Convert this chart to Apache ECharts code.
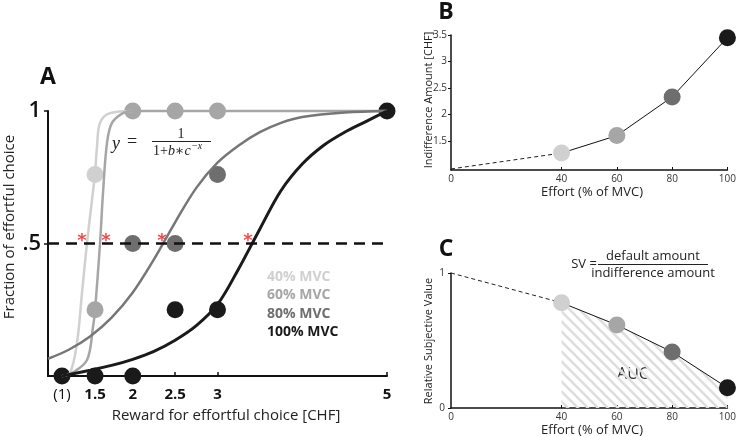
<!DOCTYPE html>
<html>
<head>
<meta charset="utf-8">
<script src="https://cdn.jsdelivr.net/npm/echarts@6/dist/echarts.min.js"></script>
<style>
html, body { margin: 0; padding: 0; background: #fff; }
#chart { width: 739px; height: 436px; }
</style>
</head>
<body>
<div id="chart"></div>
<script>
// ---- panel A: choice curves ----
// "(1)" sits a bit to the right of the axis origin in the figure
const rewardTicks = [1.165, 1.555, 2, 2.5, 3, 5];
const rewardLabels = ['(1)', '1.5', '2', '2.5', '3', '5'];
const levelNames = ['40% MVC', '60% MVC', '80% MVC', '100% MVC'];

// observed fraction of effortful choices
const dots40 = [[1.555, 0.76]];
const dots60 = [[1.555, 0.25], [2, 1], [2.5, 1], [3, 1]];
const dots80 = [[2, 0.5], [2.5, 0.5], [3, 0.76]];
const dots100 = [[1.165, 0], [1.555, 0], [2, 0], [2.5, 0.25], [3, 0.25], [5, 1]];

// fitted sigmoids
const fit40 = [[1.165, 0], [1.26, 0.011], [1.342, 0.125], [1.401, 0.313], [1.46, 0.502], [1.519, 0.664],
  [1.555, 0.766], [1.578, 0.864], [1.614, 0.955], [1.732, 0.992], [2.0, 1.0]];
const fit60 = [[1.165, 0], [1.283, 0.011], [1.46, 0.06], [1.531, 0.185], [1.555, 0.249], [1.614, 0.502],
  [1.649, 0.691], [1.696, 0.879], [1.755, 0.955], [1.885, 0.992], [2.0, 1.0], [5.0, 1.0]];
const fit80 = [[1.0, 0.065], [1.25, 0.1], [1.5, 0.15], [1.75, 0.22], [2.0, 0.315], [2.25, 0.44],
  [2.5, 0.58], [2.75, 0.71], [3.0, 0.805], [3.25, 0.87], [3.5, 0.92], [3.75, 0.955], [4.0, 0.977],
  [4.5, 0.994], [5.0, 1.0]];
const fit100 = [[1.165, 0], [1.5, 0.022], [1.75, 0.04], [2.0, 0.063], [2.25, 0.093], [2.5, 0.135],
  [2.75, 0.19], [3.0, 0.27], [3.25, 0.405], [3.5, 0.555], [3.75, 0.7], [4.0, 0.8], [4.25, 0.87],
  [4.5, 0.92], [4.75, 0.96], [5.0, 1.0]];

const halfLine = [[1, 0.5], [5, 0.5]];
const indiffPoints = [[1.401, 0.5], [1.684, 0.5], [2.345, 0.5], [3.36, 0.5]];

// ---- panel B: indifference amounts ----
const effort = [40, 60, 80, 100];
const indiffAmount = [1.27, 1.6, 2.33, 3.45];
const indiffExtrap = [[0, 0.97], [40, 1.27]];

// ---- panel C: relative subjective value ----
const subjValue = [0.78, 0.615, 0.415, 0.15];
const svExtrap = [[0, 1], [40, 0.78]];

const levelColors = ['#d0d0d0', '#a6a6a6', '#6e6e6e', '#1a1a1a'];
const FONT = '"Open Sans", "Noto Sans", sans-serif';
const SERIF = '"Liberation Serif", "DejaVu Serif", serif';

// hatch pattern for the AUC area
function hatch() {
  const c = document.createElement('canvas');
  c.width = 10; c.height = 10;
  const ctx = c.getContext('2d');
  ctx.strokeStyle = '#dedede';
  ctx.lineWidth = 2.6;
  ctx.beginPath();
  ctx.moveTo(-5, -5); ctx.lineTo(15, 15);
  ctx.moveTo(-5, 5); ctx.lineTo(5, 15);
  ctx.moveTo(5, -5); ctx.lineTo(15, 5);
  ctx.stroke();
  return c;
}

function textWidth(str, font) {
  const ctx = document.createElement('canvas').getContext('2d');
  ctx.font = font;
  return ctx.measureText(str).width;
}

const chart = echarts.init(document.getElementById('chart'));

function curve(data, color, width) {
  return {
    type: 'line', xAxisIndex: 0, yAxisIndex: 0, data: data,
    smooth: 0.35, showSymbol: false, clip: false,
    lineStyle: { color: color, width: width }, silent: true
  };
}
function dots(data, color) {
  return {
    type: 'scatter', xAxisIndex: 0, yAxisIndex: 0, data: data,
    symbolSize: 17, clip: false, itemStyle: { color: color, opacity: 1 }, silent: true
  };
}

const smallAxisLabel = { fontFamily: FONT, fontSize: 10, color: '#333' };

function effortX(idx) {
  return {
    gridIndex: idx, type: 'value', min: 0, max: 100,
    axisLine: { lineStyle: { color: '#111', width: 1.5 } },
    axisTick: { inside: true, length: 3, customValues: [40, 60, 80, 100], lineStyle: { color: '#111' } },
    axisLabel: Object.assign({ customValues: [0, 40, 60, 80, 100], margin: 4 }, smallAxisLabel),
    splitLine: { show: false }
  };
}

// denominator pieces of the sigmoid formula
const denFont = '14px ' + SERIF;
const denItal = 'italic 14px ' + SERIF;
const denX = 153;
const denW = textWidth('1+', denFont) + textWidth('b', denItal) + textWidth('∗', denFont) + textWidth('c', denItal);

const option = {
  animation: false,
  backgroundColor: '#fff',
  grid: [
    { left: 48, top: 111, width: 339, height: 265 },
    { left: 451, top: 35, width: 278, height: 135 },
    { left: 451, top: 273, width: 278, height: 135 }
  ],
  xAxis: [
    {
      gridIndex: 0, type: 'value', min: 1, max: 5,
      axisLine: { lineStyle: { color: '#111', width: 2 } },
      axisTick: { inside: true, length: 4, customValues: [2.5, 3, 5], lineStyle: { color: '#111', width: 1.5 } },
      axisLabel: {
        customValues: rewardTicks, margin: 11,
        formatter: function (v) {
          const i = rewardTicks.findIndex(t => Math.abs(t - v) < 1e-6);
          const s = i < 0 ? '' : rewardLabels[i];
          return i === 0 ? '{r|' + s + '}' : '{b|' + s + '}';
        },
        rich: {
          r: { fontFamily: FONT, fontSize: 15, color: '#111' },
          b: { fontFamily: FONT, fontSize: 15, fontWeight: 'bold', color: '#111' }
        }
      },
      splitLine: { show: false }
    },
    effortX(1),
    effortX(2)
  ],
  yAxis: [
    {
      gridIndex: 0, type: 'value', min: 0, max: 1,
      axisLine: { lineStyle: { color: '#111', width: 2 } },
      axisTick: { length: 4, customValues: [0.5, 1], lineStyle: { color: '#111', width: 1.5 } },
      axisLabel: {
        customValues: [0.5, 1], margin: 7,
        formatter: v => (v === 1 ? '1' : '.5'),
        fontFamily: FONT, fontSize: 22, fontWeight: 600, color: '#111'
      },
      splitLine: { show: false }
    },
    {
      gridIndex: 1, type: 'value', min: 0.95, max: 3.5,
      axisLine: { lineStyle: { color: '#111', width: 1.5 } },
      axisTick: { length: 3, customValues: [1.5, 2, 2.5, 3, 3.5], lineStyle: { color: '#111' } },
      axisLabel: Object.assign({ customValues: [1.5, 2, 2.5, 3, 3.5], margin: 4 }, smallAxisLabel),
      splitLine: { show: false }
    },
    {
      gridIndex: 2, type: 'value', min: 0, max: 1,
      axisLine: { lineStyle: { color: '#111', width: 1.5 } },
      axisTick: { length: 3, customValues: [0, 1], lineStyle: { color: '#111' } },
      axisLabel: Object.assign({ customValues: [0, 1], margin: 6 }, smallAxisLabel),
      splitLine: { show: false }
    }
  ],
  series: [
    curve(fit40, levelColors[0], 2.5),
    curve(fit60, levelColors[1], 2.5),
    curve(fit80, '#767676', 2.5),
    curve(fit100, levelColors[3], 3),
    {
      type: 'line', xAxisIndex: 0, yAxisIndex: 0, data: halfLine, showSymbol: false, silent: true,
      lineStyle: { color: '#111', width: 2.5, type: [11, 7] }
    },
    {
      type: 'scatter', xAxisIndex: 0, yAxisIndex: 0, data: indiffPoints, symbolSize: 1, silent: true,
      itemStyle: { color: 'rgba(0,0,0,0)' },
      label: {
        show: true, position: 'inside', offset: [0, -2], formatter: '*',
        color: '#f01c1c', fontSize: 18, fontWeight: 'bold', fontFamily: '"DejaVu Sans"'
      }
    },
    dots(dots40, levelColors[0]),
    dots(dots60, levelColors[1]),
    dots(dots80, levelColors[2]),
    dots(dots100, levelColors[3]),

    // panel B
    {
      type: 'line', xAxisIndex: 1, yAxisIndex: 1, data: indiffExtrap, showSymbol: false, silent: true,
      lineStyle: { color: '#222', width: 1, type: [4, 3] }
    },
    {
      type: 'line', xAxisIndex: 1, yAxisIndex: 1, silent: true, clip: false,
      data: effort.map((e, i) => ({ value: [e, indiffAmount[i]], itemStyle: { color: levelColors[i] } })),
      symbol: 'circle', symbolSize: 17, showSymbol: true,
      lineStyle: { color: '#111', width: 1 }
    },

    // panel C
    {
      type: 'line', xAxisIndex: 2, yAxisIndex: 2, data: svExtrap, showSymbol: false, silent: true,
      lineStyle: { color: '#222', width: 1, type: [4, 3] }
    },
    {
      type: 'line', xAxisIndex: 2, yAxisIndex: 2, silent: true, clip: false,
      data: effort.map((e, i) => ({ value: [e, subjValue[i]], itemStyle: { color: levelColors[i] } })),
      symbol: 'circle', symbolSize: 17, showSymbol: true,
      lineStyle: { color: '#111', width: 1 },
      areaStyle: { color: { image: hatch(), repeat: 'repeat' }, opacity: 1 }
    }
  ],
  graphic: [
    // panel letters
    { type: 'text', x: 48, y: 77, style: { text: 'A', font: 'bold 23px ' + FONT, fill: '#111', align: 'center', verticalAlign: 'middle' } },
    { type: 'text', x: 446, y: 12, style: { text: 'B', font: 'bold 23px ' + FONT, fill: '#111', align: 'center', verticalAlign: 'middle' } },
    { type: 'text', x: 446, y: 249, style: { text: 'C', font: 'bold 23px ' + FONT, fill: '#111', align: 'center', verticalAlign: 'middle' } },

    // axis titles
    { type: 'text', x: 10, y: 227, rotation: Math.PI / 2, style: { text: 'Fraction of effortful choice', font: '15px ' + FONT, fill: '#222', align: 'center', verticalAlign: 'middle' } },
    { type: 'text', x: 226, y: 416, style: { text: 'Reward for effortful choice [CHF]', font: '15px ' + FONT, fill: '#222', align: 'center', verticalAlign: 'middle' } },
    { type: 'text', x: 429, y: 100, rotation: Math.PI / 2, style: { text: 'Indifference Amount [CHF]', font: '11px ' + FONT, fill: '#222', align: 'center', verticalAlign: 'middle' } },
    { type: 'text', x: 592, y: 192, style: { text: 'Effort (% of MVC)', font: '13px ' + FONT, fill: '#222', align: 'center', verticalAlign: 'middle' } },
    { type: 'text', x: 429, y: 341, rotation: Math.PI / 2, style: { text: 'Relative Subjective Value', font: '11px ' + FONT, fill: '#222', align: 'center', verticalAlign: 'middle' } },
    { type: 'text', x: 592, y: 430, style: { text: 'Effort (% of MVC)', font: '13px ' + FONT, fill: '#222', align: 'center', verticalAlign: 'middle' } },

    // legend of panel A
    ...levelNames.map((n, i) => ({
      type: 'text', x: 267, y: 277 + i * 18.3,
      style: { text: n, font: 'bold 14px ' + FONT, fill: levelColors[i], align: 'left', verticalAlign: 'middle' }
    })),

    // sigmoid formula
    { type: 'text', x: 116, y: 144, style: { text: 'y', font: 'italic 18px ' + SERIF, fill: '#222', align: 'center', verticalAlign: 'middle' } },
    { type: 'text', x: 132, y: 142, style: { text: '=', font: '18px ' + SERIF, fill: '#222', align: 'center', verticalAlign: 'middle' } },
    { type: 'text', x: 181, y: 134, style: { text: '1', font: '14px ' + SERIF, fill: '#222', align: 'center', verticalAlign: 'middle' } },
    { type: 'line', shape: { x1: 152, y1: 141.5, x2: 211, y2: 141.5 }, style: { stroke: '#222', lineWidth: 1 } },
    {
      type: 'text', x: denX, y: 151,
      style: {
        text: '{n|1+}{i|b}{n|∗}{i|c}', align: 'left', verticalAlign: 'middle',
        rich: { n: { font: denFont, fill: '#222' }, i: { font: denItal, fill: '#222' } }
      }
    },
    { type: 'text', x: denX + denW + 0.5, y: 146, style: { text: '−x', font: 'italic 10px ' + SERIF, fill: '#222', align: 'left', verticalAlign: 'middle' } },

    // AUC + SV formula
    { type: 'text', x: 633, y: 374, style: { text: 'AUC', font: '16px ' + FONT, fill: '#333', align: 'center', verticalAlign: 'middle' } },
    { type: 'text', x: 584, y: 264, style: { text: 'SV =', font: '13px ' + FONT, fill: '#222', align: 'center', verticalAlign: 'middle' } },
    { type: 'text', x: 653, y: 256, style: { text: 'default amount', font: '13px ' + FONT, fill: '#222', align: 'center', verticalAlign: 'middle' } },
    { type: 'line', shape: { x1: 598, y1: 264.5, x2: 708, y2: 264.5 }, style: { stroke: '#222', lineWidth: 1 } },
    { type: 'text', x: 653, y: 273, style: { text: 'indifference amount', font: '13px ' + FONT, fill: '#222', align: 'center', verticalAlign: 'middle' } }
  ]
};

chart.setOption(option);
</script>
</body>
</html>
